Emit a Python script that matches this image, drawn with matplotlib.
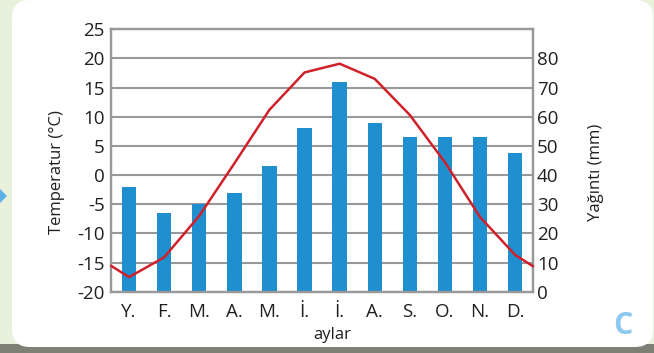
import matplotlib.pyplot as plt
from matplotlib.patches import FancyBboxPatch, Polygon, Rectangle

# months (Turkish abbreviations), precipitation in mm, temperature in °C
months = ['Y.', 'F.', 'M.', 'A.', 'M.', 'İ.', 'İ.', 'A.', 'S.', 'O.', 'N.', 'D.']
rain = [36, 27, 30, 34, 43, 56, 72, 58, 53, 53, 53, 47.5]
temp = [-17.5, -14.1, -7.0, 2.0, 11.2, 17.6, 19.1, 16.5, 10.3, 2.2, -7.2, -13.7]

temp_ticks = list(range(-20, 30, 5))
rain_ticks = list(range(0, 90, 10))

plt.rcParams['font.family'] = ['Open Sans', 'DejaVu Sans']
plt.rcParams['axes.unicode_minus'] = False

W, H = 654, 353
fig = plt.figure(figsize=(W / 100, H / 100), dpi=100, facecolor='#e8f1dc')

# page background: card, bottom band, little arrow
bg = fig.add_axes([0, 0, 1, 1], zorder=-1)
bg.set_xlim(0, W)
bg.set_ylim(H, 0)
bg.axis('off')
bg.add_patch(Rectangle((0, 344), W, 9, color='#7e8075', lw=0))
bg.add_patch(FancyBboxPatch((12, 0), 641, 347, boxstyle='round,pad=0,rounding_size=18',
                            fc='white', ec='none'))
bg.add_patch(Polygon([(0, 189), (7, 196), (0, 203)], closed=True, fc='#5fb0e6', ec='none'))
bg.text(622.5, 326, 'C', color='#8dc8ee', fontsize=22, fontweight='bold',
        ha='center', va='center')

# chart
ax = fig.add_axes([111.5 / W, 1 - 291.7 / H, 421.2 / W, 262.4 / H])
ax.set_facecolor('none')
ax2 = ax.twinx()

x = list(range(len(months)))
ax2.bar(x, rain, width=0.41, color='#1f8fd0', zorder=2)

# line continues to the plot edges (Dec/Jan midpoint)
edge = (temp[0] + temp[-1]) / 2
ax.plot([-0.5] + x + [11.5], [edge] + temp + [edge], color='#d0212a', lw=1.8,
        zorder=5, clip_on=False)
ax.set_zorder(ax2.get_zorder() + 1)

ax.set_xlim(-0.5, 11.5)
ax.set_ylim(-20, 25)
ax2.set_ylim(0, 90)
ax.set_yticks(temp_ticks)
ax2.set_yticks(rain_ticks)
ax.set_xticks(x)
ax.set_xticklabels(months)

grid_c = '#999999'
for t in temp_ticks:
    ax2.axhline((t + 20) * 2, color=grid_c, lw=1.5, zorder=1)

for a in (ax, ax2):
    for s in a.spines.values():
        s.set_color(grid_c)
        s.set_linewidth(1.6)

txt_c = '#231f20'
ax.tick_params(axis='y', length=0, pad=5, labelsize=13.5, labelcolor=txt_c)
ax.tick_params(axis='x', length=0, pad=8, labelsize=13.5, labelcolor=txt_c)
ax2.tick_params(axis='y', length=0, pad=3, labelsize=13.5, labelcolor=txt_c)

fig.text(57 / W, 1 - 172 / H, 'Temperatur (°C)', rotation=90, ha='center', va='center',
         fontsize=12, color=txt_c)
fig.text(596 / W, 1 - 172 / H, 'Yağıntı (mm)', rotation=90, ha='center', va='center',
         fontsize=12, color=txt_c)
fig.text(332 / W, 1 - 335 / H, 'aylar', ha='center', va='center',
         fontsize=12, color=txt_c)

fig.savefig('out.png', dpi=100, facecolor=fig.get_facecolor())
